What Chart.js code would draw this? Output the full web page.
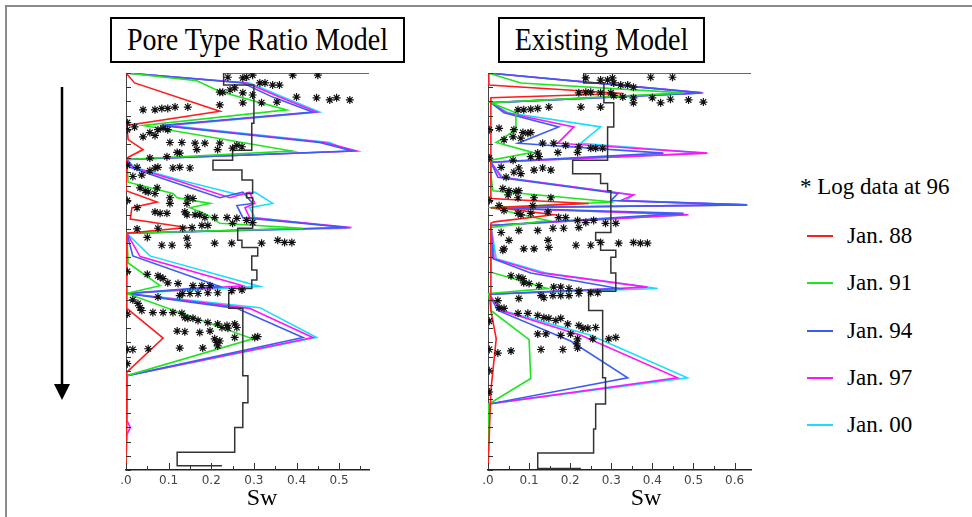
<!DOCTYPE html>
<html>
<head>
<meta charset="utf-8">
<script src="https://cdn.jsdelivr.net/npm/chart.js@4.4.1/dist/chart.umd.min.js"></script>
<style>
  html, body { margin: 0; padding: 0; background: #fff; }
  body { width: 972px; height: 517px; position: relative; overflow: hidden;
         font-family: 'Liberation Serif', 'Times New Roman', serif; color: #000; }
  .frame { position: absolute; left: 5px; top: 5px; width: 990px; height: 530px;
           border-top: 2px solid #8a8a8a; border-left: 2px solid #8a8a8a; }
  .title { position: absolute; top: 17px; height: 46px; box-sizing: border-box;
           border: 2px solid #000; font-size: 28px; line-height: 42px; text-align: center; }
  .title span { display: inline-block; transform: scaleY(1.12); }
  canvas { position: absolute; top: 60px; }
  .sw { position: absolute; top: 485px; font-size: 24px; line-height: 24px; width: 60px; text-align: center; }
  .leg { position: absolute; font-size: 23px; line-height: 24px; white-space: nowrap; }
  .legline { position: absolute; width: 26px; height: 2px; }
</style>
</head>
<body>
<div class="frame"></div>
<div class="title" style="left:110px;width:295px;"><span>Pore Type Ratio Model</span></div>
<div class="title" style="left:498px;width:207px;"><span>Existing Model</span></div>

<svg style="position:absolute;left:50px;top:85px" width="24" height="320">
  <line x1="12" y1="2" x2="12" y2="300" stroke="#000" stroke-width="2.5"/>
  <polygon points="4,299 20,299 12,315" fill="#000"/>
</svg>

<canvas id="ptrChart" width="290" height="440" style="left:100px;"></canvas>
<canvas id="exChart" width="310" height="440" style="left:462px;"></canvas>

<div class="sw" style="left:232px;">Sw</div>
<div class="sw" style="left:616px;">Sw</div>

<div id="legend"></div>

<script>
// depth axis runs 0 (top) .. 28 (bottom), one tick per unit
const depthMax = 28;
const seriesLabels = ['Jan. 88', 'Jan. 91', 'Jan. 94', 'Jan. 97', 'Jan. 00'];
const seriesColors = ['#ff1c1c', '#1fe41f', '#3d5cf2', '#ff14ff', '#19dcff'];

// ---- Pore Type Ratio Model : [Sw, depth] ----
const ptrJan88 = [[0,0],[0.02,0.7],[0.22,2.7],[0.002,3.7],[0.005,4.7],[0.04,5.4],[0.002,6.0],[0,8.3],[0.073,9.1],[0.014,9.5],[0.01,10.3],[0.143,10.9],[0.002,11.3],[0.002,16.6],[0.087,18.7],[0.002,21.1],[0,28]];
const ptrJan91 = [[0,0],[0.166,0.55],[0.22,1.3],[0.377,2.6],[0.04,3.7],[0.389,5.5],[0.002,6.1],[0.005,7.7],[0.11,8.5],[0.12,8.8],[0.197,9.2],[0.15,9.5],[0.19,10.0],[0.22,10.6],[0.415,10.95],[0.002,11.3],[0.005,13.4],[0.08,15.0],[0.002,15.55],[0.297,18.75],[0.002,21.35],[0,28]];
const ptrJan94 = [[0,0],[0.274,0.7],[0.344,1.7],[0.438,2.75],[0.08,3.7],[0.454,4.9],[0.532,5.5],[0.002,6.1],[0.01,6.65],[0.096,7.55],[0.22,8.8],[0.274,8.4],[0.297,9.2],[0.26,9.35],[0.274,10.2],[0.518,10.9],[0.002,11.3],[0.016,12.9],[0.22,15.05],[0.002,15.55],[0.26,16.6],[0.415,18.65],[0.002,21.35],[0,28]];
const ptrJan97 = [[0,0],[0.283,0.7],[0.36,1.7],[0.447,2.75],[0.09,3.7],[0.466,4.9],[0.541,5.5],[0.002,6.1],[0.016,6.65],[0.115,7.55],[0.244,8.8],[0.29,8.4],[0.302,9.2],[0.279,9.5],[0.29,10.2],[0.529,10.9],[0.002,11.3],[0.033,12.95],[0.274,15.0],[0.002,15.55],[0.29,16.6],[0.438,18.65],[0.002,21.35],[0.002,24.5],[0.01,25.0],[0.002,25.5],[0,28]];
const ptrJan00 = [[0,0],[0.29,0.7],[0.368,1.7],[0.454,2.75],[0.103,3.7],[0.478,4.9],[0.525,5.5],[0.002,6.1],[0.02,6.65],[0.126,7.55],[0.267,8.6],[0.302,8.4],[0.344,9.2],[0.29,9.5],[0.302,10.2],[0.525,10.95],[0.002,11.3],[0.056,12.9],[0.314,15.05],[0.002,15.55],[0.314,16.55],[0.447,18.65],[0.002,21.35],[0,28]];
const ptrStep = [[0.57,0],[0.229,0],[0.229,0.85],[0.3,0.85],[0.3,3.55],[0.295,3.55],[0.295,5.45],[0.25,5.45],[0.25,6.15],[0.204,6.15],[0.204,6.85],[0.272,6.85],[0.272,7.55],[0.297,7.55],[0.297,8.5],[0.283,8.5],[0.283,8.8],[0.297,8.8],[0.297,10.95],[0.262,10.95],[0.262,11.8],[0.272,11.8],[0.272,12.3],[0.309,12.3],[0.309,12.9],[0.295,12.9],[0.295,13.9],[0.307,13.9],[0.307,14.6],[0.295,14.6],[0.295,15.2],[0.248,15.2],[0.248,15.5],[0.241,15.5],[0.241,16.6],[0.274,16.6],[0.274,21.35],[0.286,21.35],[0.286,23.25],[0.274,23.25],[0.274,25.0],[0.255,25.0],[0.255,26.75],[0.12,26.75],[0.12,27.7],[0.225,27.7]];
const ptrLog = [
  [0.239,0.3],[0.274,0.35],[0.283,0.3],[0.297,0.15],[0.314,0.7],[0.326,0.7],[0.344,0.85],[0.36,0.85],[0.391,0.15],[0.45,0.15],
  [0.22,1.35],[0.227,1.35],[0.244,1.2],[0.255,1.05],[0.274,1.4],[0.297,1.55],
  [0.274,2.1],[0.318,2.1],[0.354,2.05],[0.4,1.7],[0.447,1.75],[0.478,1.9],[0.494,1.75],[0.525,1.9],
  [0.04,2.6],[0.068,2.6],[0.084,2.5],[0.098,2.5],[0.115,2.4],[0.145,2.4],[0.22,2.25],
  [0.02,3.8],[0.04,4.5],[0.056,4.2],[0.068,4.4],[0.075,4.0],[0.087,3.9],[0.098,4.0],[0.103,4.9],[0.131,4.9],[0.162,4.95],[0.185,4.95],[0.22,4.95],
  [0.166,5.4],[0.215,5.4],[0.25,5.3],[0.26,5.1],[0.272,5.2],[0.056,6.0],[0.096,5.9],[0.12,5.6],[0.126,5.65],
  [0.026,6.65],[0.056,6.9],[0.068,6.7],[0.075,6.65],[0.11,6.7],[0.126,6.65],[0.15,6.7],[0.016,7.3],[0.037,7.2],
  [0.033,8.1],[0.045,8.3],[0.052,8.4],[0.068,8.5],[0.073,8.1],
  [0.103,8.8],[0.145,8.8],[0.157,8.85],[0.103,9.2],[0.143,9.2],[0.026,9.5],
  [0.068,9.8],[0.08,9.9],[0.096,9.9],[0.138,9.8],[0.143,10.0],[0.162,10.0],[0.173,10.0],[0.185,10.2],[0.208,10.2],[0.237,10.2],[0.26,10.25],[0.283,10.4],[0.297,10.55],
  [0.075,10.95],[0.133,10.95],[0.155,10.9],[0.178,10.75],[0.192,10.75],[0.25,10.6],[0.026,11.0],
  [0.05,11.6],[0.084,12.15],[0.108,12.15],[0.143,11.65],[0.145,12.15],[0.208,12.0],[0.248,12.0],[0.318,12.0],[0.356,11.8],[0.372,11.95],[0.389,11.95],
  [0.05,14.2],[0.075,14.3],[0.08,14.4],[0.087,14.5],[0.098,14.8],[0.122,14.85],[0.157,15.0],[0.178,15.0],[0.197,15.0],
  [0.126,15.7],[0.133,15.55],[0.15,15.55],[0.169,15.55],[0.192,15.5],[0.215,15.5],[0.248,15.35],[0.272,15.3],[0.075,15.8],[0.016,16.0],[0.028,16.25],[0.033,16.55],[0.037,16.75],
  [0.063,16.9],[0.087,16.9],[0.11,16.9],[0.131,16.95],[0.138,17.25],[0.145,17.3],[0.157,17.3],[0.169,17.45],[0.192,17.6],[0.215,17.7],[0.237,17.8],[0.255,17.7],[0.26,17.95],
  [0.12,18.2],[0.138,18.25],[0.173,18.3],[0.197,18.2],[0.225,17.95],[0.239,18.0],
  [0.208,18.75],[0.213,19.0],[0.215,19.25],[0.22,18.9],[0.255,18.65],[0.309,18.6],[0.302,18.65],[0.18,19.4],[0.126,19.4],[0.052,19.45],[0.016,19.5],
  [0.003,3.5],[0.003,4.0],[0.003,6.5],[0.003,9.0],[0.003,14.0],[0.003,17.0],[0.003,19.5],[0.003,20.5]
];

// ---- Existing Model : [Sw, depth] ----
const exJan88 = [[0,0],[0.002,0.85],[0.33,1.45],[0.007,1.75],[0.007,8.85],[0.245,9.2],[0.007,9.5],[0.039,9.55],[0.16,10.0],[0.015,10.5],[0.007,10.6],[0.007,16.75],[0.02,18.75],[0.007,22.4],[0,28]];
const exJan91 = [[0,0],[0.08,0.7],[0.476,1.4],[0.007,2.1],[0.068,2.8],[0.068,4.0],[0.02,4.9],[0.109,5.6],[0.007,6.15],[0.007,7.2],[0.012,8.3],[0.306,9.1],[0.007,9.5],[0.146,10.4],[0.007,10.9],[0.007,14.05],[0.146,15.2],[0.002,15.55],[0.007,16.75],[0.1,18.8],[0.104,21.55],[0.002,23.35],[0,28]];
const exJan94 = [[0,0],[0.517,1.4],[0.007,2.1],[0.039,2.8],[0.172,3.8],[0.073,4.95],[0.427,5.65],[0.007,6.3],[0.024,7.35],[0.316,8.5],[0.299,9.0],[0.631,9.3],[0.007,9.5],[0.476,9.9],[0.007,10.75],[0.012,13.1],[0.104,14.1],[0.318,15.2],[0.002,15.6],[0.024,16.75],[0.201,18.9],[0.34,21.5],[0.002,23.35],[0,28]];
const exJan97 = [[0,0],[0.522,1.4],[0.007,2.1],[0.044,2.8],[0.209,3.8],[0.17,4.95],[0.534,5.65],[0.007,6.3],[0.032,7.35],[0.354,8.6],[0.323,9.0],[0.626,9.3],[0.007,9.5],[0.488,10.0],[0.007,10.75],[0.015,13.1],[0.129,14.1],[0.388,15.1],[0.002,15.6],[0.032,16.75],[0.226,18.5],[0.461,21.5],[0.002,23.35],[0,28]];
const exJan00 = [[0,0],[0.524,1.4],[0.007,2.1],[0.049,2.8],[0.274,3.8],[0.226,4.95],[0.524,5.65],[0.007,6.3],[0.036,7.35],[0.354,8.6],[0.335,9.0],[0.631,9.3],[0.007,9.5],[0.485,10.0],[0.007,10.75],[0.02,13.1],[0.141,14.1],[0.413,15.2],[0.002,15.6],[0.036,16.75],[0.25,18.5],[0.485,21.5],[0.002,23.35],[0,28]];
const exStep = [[0.64,0],[0.233,0],[0.233,0.7],[0.282,0.7],[0.282,2.1],[0.306,2.1],[0.306,3.8],[0.291,3.8],[0.291,6.15],[0.206,6.15],[0.206,7.1],[0.274,7.1],[0.274,7.8],[0.291,7.8],[0.291,8.3],[0.299,8.3],[0.299,11.25],[0.262,11.25],[0.262,11.8],[0.274,11.8],[0.274,12.5],[0.311,12.5],[0.311,13.0],[0.299,13.0],[0.299,14.1],[0.311,14.1],[0.311,15.4],[0.245,15.4],[0.245,16.75],[0.279,16.75],[0.279,21.5],[0.286,21.5],[0.286,23.35],[0.262,23.35],[0.262,25.1],[0.257,25.1],[0.257,26.8],[0.121,26.8],[0.121,27.9],[0.226,27.9]];
const exLog = [
  [0.238,0.35],[0.274,0.5],[0.291,0.5],[0.303,0.35],[0.306,0.7],[0.323,0.85],[0.34,0.85],[0.354,1.0],[0.396,0.3],[0.449,0.3],
  [0.221,1.4],[0.238,1.35],[0.25,1.35],[0.274,1.4],[0.299,1.4],[0.306,1.6],[0.328,1.7],
  [0.354,1.75],[0.4,1.75],[0.444,1.85],[0.488,1.9],[0.524,2.05],[0.42,2.1],[0.354,2.1],
  [0.073,2.6],[0.087,2.6],[0.104,2.55],[0.121,2.5],[0.148,2.4],[0.226,2.4],[0.274,2.4],
  [0.027,3.9],[0.063,4.0],[0.085,4.2],[0.097,4.25],[0.104,4.2],[0.061,4.5],[0.039,4.7],[0.08,4.6],[0.133,4.95],[0.16,4.95],[0.189,5.1],[0.221,5.2],[0.25,5.3],[0.262,5.3],[0.279,5.3],
  [0.17,5.6],[0.218,5.6],[0.121,5.65],[0.124,5.9],[0.104,5.9],[0.061,6.15],
  [0.032,6.65],[0.063,7.0],[0.075,6.7],[0.08,7.1],[0.112,6.85],[0.133,6.7],[0.153,6.85],[0.044,7.35],
  [0.036,8.15],[0.051,8.3],[0.068,8.35],[0.075,8.3],[0.049,8.6],[0.073,8.8],[0.112,8.8],[0.153,8.8],
  [0.027,9.35],[0.039,9.7],[0.109,9.35],[0.073,9.9],[0.08,10.0],[0.104,9.9],[0.146,9.8],[0.172,10.2],[0.189,10.2],[0.218,10.4],[0.238,10.55],[0.257,10.4],[0.286,10.6],[0.311,10.6],
  [0.032,11.25],[0.075,11.1],[0.121,11.1],[0.158,10.95],[0.184,10.95],[0.221,10.9],[0.051,11.8],[0.146,11.8],
  [0.039,12.4],[0.087,12.4],[0.112,12.4],[0.148,12.3],[0.214,12.15],[0.25,12.15],[0.274,11.95],[0.318,12.0],[0.354,11.95],[0.371,12.0],[0.388,12.0],
  [0.036,12.5],[0.056,14.3],[0.075,14.4],[0.085,14.5],[0.087,14.8],[0.1,14.85],[0.124,15.0],[0.16,15.1],[0.177,15.1],[0.197,15.2],[0.221,15.35],[0.25,15.5],[0.267,15.5],
  [0.129,15.7],[0.136,15.85],[0.158,15.7],[0.177,15.7],[0.197,15.7],[0.221,15.55],[0.075,15.9],[0.024,16.05],[0.027,16.55],[0.039,16.6],
  [0.073,16.95],[0.097,16.95],[0.121,17.1],[0.136,17.25],[0.148,17.3],[0.165,17.45],[0.177,17.3],[0.194,17.7],[0.221,17.8],[0.231,18.0],[0.243,18.0],[0.262,17.95],
  [0.121,18.4],[0.141,18.4],[0.177,18.5],[0.201,18.4],[0.218,18.75],[0.216,19.1],[0.218,19.4],[0.255,18.75],[0.294,18.75],[0.311,18.65],
  [0.024,19.75],[0.056,19.6],[0.129,19.5],[0.182,19.5],
  [0.003,4.0],[0.003,6.0],[0.003,9.0],[0.003,17.5],[0.003,19.5],[0.003,21.0],[0.003,22.5]
];

// short tick marks drawn on the inside of both axes
const innerTicks = {
  id: 'innerTicks',
  afterDraw(chart) {
    const { ctx, chartArea: a } = chart;
    const x = chart.scales.x, y = chart.scales.y;
    ctx.save();
    ctx.strokeStyle = '#333';
    ctx.lineWidth = 1;
    ctx.beginPath();
    x.ticks.forEach(t => {
      const px = Math.round(x.getPixelForValue(t.value)) + 0.5;
      const major = Math.abs(t.value * 10 - Math.round(t.value * 10)) < 1e-6;
      ctx.moveTo(px, a.bottom);
      ctx.lineTo(px, a.bottom - (major ? 7 : 4));
    });
    y.ticks.forEach(t => {
      const py = Math.round(y.getPixelForValue(t.value)) + 0.5;
      ctx.moveTo(a.left, py);
      ctx.lineTo(a.left + 5, py);
    });
    ctx.stroke();
    ctx.restore();
  }
};

function toXY(pts) {
  return pts.map(p => ({ x: p[0], y: p[1] }));
}

function makeChart(id, curves, logPts, stepPts, xMax, padRight) {
  const datasets = [
    {
      label: 'Log data at 96',
      data: toXY(logPts),
      showLine: false,
      pointStyle: 'star',
      pointRadius: 4,
      borderColor: '#111',
      borderWidth: 1.2
    },
    {
      label: 'step',
      data: toXY(stepPts),
      showLine: true,
      borderColor: '#333',
      borderWidth: 1.5,
      pointRadius: 0
    }
  ];
  curves.forEach((c, i) => {
    datasets.push({
      label: seriesLabels[i],
      data: toXY(c),
      showLine: true,
      borderColor: seriesColors[i],
      borderWidth: 1.6,
      pointRadius: 0
    });
  });

  new Chart(document.getElementById(id), {
    type: 'scatter',
    data: { datasets },
    options: {
      responsive: false,
      animation: false,
      layout: { padding: { top: 13, right: padRight, bottom: 0, left: 0 } },
      plugins: { legend: { display: false }, tooltip: { enabled: false } },
      scales: {
        x: {
          type: 'linear',
          min: 0,
          max: xMax,
          grid: { display: false, drawTicks: false },
          border: { display: true, color: '#222', width: 1.5 },
          ticks: {
            stepSize: 0.05,
            includeBounds: false,
            autoSkip: false,
            maxRotation: 0,
            padding: 4,
            color: '#444',
            font: { family: 'DejaVu Sans', size: 12 },
            callback: v => {
              if (Math.abs(v * 10 - Math.round(v * 10)) > 1e-6) return '';
              return v === 0 ? '.0' : v.toFixed(1);
            }
          },
          afterFit(s) { s.height = 30; }
        },
        y: {
          type: 'linear',
          min: 0,
          max: depthMax,
          reverse: true,
          grid: { display: false, drawTicks: false },
          border: { display: true, color: '#444', width: 1 },
          ticks: { display: false, stepSize: 1 },
          afterFit(s) { s.width = 26; }
        }
      }
    },
    plugins: [innerTicks]
  });
}

makeChart('ptrChart', [ptrJan88, ptrJan91, ptrJan94, ptrJan97, ptrJan00], ptrLog, ptrStep, 0.57, 21);
makeChart('exChart', [exJan88, exJan91, exJan94, exJan97, exJan00], exLog, exStep, 0.64, 21);

// legend at right
const legend = document.getElementById('legend');
let html = '<div class="leg" style="left:800px;top:175px;">* Log data at 96</div>';
seriesLabels.forEach((lab, i) => {
  const cy = 236 + i * 47.3;
  html += '<div class="legline" style="left:807px;top:' + (cy - 1) + 'px;background:' + seriesColors[i] + ';"></div>';
  html += '<div class="leg" style="left:847px;top:' + (cy - 12) + 'px;">' + lab + '</div>';
});
legend.innerHTML = html;
</script>
</body>
</html>
